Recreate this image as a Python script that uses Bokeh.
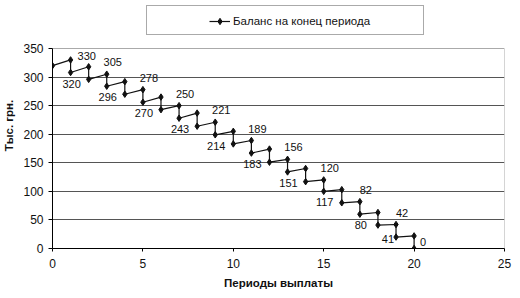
from bokeh.plotting import figure
from bokeh.models import (Range1d, FixedTicker, Legend, LegendItem, LabelSet,
                          ColumnDataSource)
from bokeh.core.properties import value
from bokeh.embed import file_html
from bokeh.resources import INLINE

# ---- data ----
periods = list(range(0, 21))
# balance just before the payment (top of each step), periods 1..20
balance_before = [330, 318, 305, 292, 278, 265, 250, 237, 221, 205,
                  189, 174, 156, 140, 120, 103, 82, 63, 42, 22]
# balance after the payment (bottom of each step), periods 0..20
balance_after = [320, 308, 296, 284, 270, 256, 243, 228, 214, 199, 183,
                 167, 151, 134, 117, 100, 80, 60, 41, 20, 0]

label_periods = [1, 3, 5, 7, 9, 11, 13, 15, 17, 19]
labels_upper = ["330", "305", "278", "250", "221", "189", "156", "120", "82", "42"]
labels_lower = ["320", "296", "270", "243", "214", "183", "151", "117", "80", "41"]
label_last = "0"

x_ticks = [0, 5, 10, 15, 20, 25]
y_ticks = [0, 50, 100, 150, 200, 250, 300, 350]
grid_ticks = [50, 100, 150, 200, 250, 300]

series_name = "Баланс на конец периода"
x_title = "Периоды выплаты"
y_title = "Тыс. грн."

# ---- build the step series ----
xs = [periods[0]]
ys = [balance_after[0]]
for k in periods[1:]:
    xs += [k, k]
    ys += [balance_before[k - 1], balance_after[k]]
src = ColumnDataSource(dict(x=xs, y=ys))

FONT = "Liberation Sans"

# The frame is extended upward so that the legend (drawn inside the frame)
# is not clipped; the visible plot area stays 0..350.
FRAME_TOP = 2      # px
PLOT_TOP = 48      # px where 350 lies
FRAME_BOTTOM = 248 # px
y_max = y_ticks[-1]
y_end = y_max * (FRAME_BOTTOM - FRAME_TOP) / (FRAME_BOTTOM - PLOT_TOP)

p = figure(width=520, height=298, output_backend="svg", toolbar_location=None,
           x_range=Range1d(x_ticks[0], x_ticks[-1]), y_range=Range1d(0, y_end),
           min_border_left=51, min_border_right=16,
           min_border_top=FRAME_TOP, min_border_bottom=298 - FRAME_BOTTOM)
p.background_fill_color = "white"
p.border_fill_color = "white"
p.outline_line_color = None

p.xgrid.grid_line_color = None
p.ygrid.ticker = FixedTicker(ticks=grid_ticks)
p.ygrid.grid_line_color = "#555555"
p.ygrid.grid_line_width = 1

# plot-area border (top and right), light grey
p.segment(x0=[x_ticks[0], x_ticks[-1]], y0=[y_max, y_ticks[0]],
          x1=[x_ticks[-1], x_ticks[-1]], y1=[y_max, y_max],
          line_color="#aaaaaa", line_width=1)

for ax in (p.xaxis[0], p.yaxis[0]):
    ax.axis_line_color = "black"
    ax.major_tick_line_color = "black"
    ax.minor_tick_line_color = None
    ax.major_tick_in = 0
    ax.major_label_text_font = FONT
    ax.major_label_text_font_size = "12px"
    ax.major_label_text_color = "#111111"
    ax.axis_label_text_font = FONT
    ax.axis_label_text_font_size = "11.5px"
    ax.axis_label_text_font_style = "bold"
    ax.axis_label_text_color = "#111111"

p.xaxis.ticker = FixedTicker(ticks=x_ticks)
p.xaxis.major_tick_out = 3
p.xaxis.major_label_standoff = 7
p.xaxis.axis_label = x_title
p.xaxis.axis_label_standoff = 6

p.yaxis.ticker = FixedTicker(ticks=y_ticks)
p.yaxis.bounds = (y_ticks[0], y_max)
p.yaxis.major_tick_out = 4
p.yaxis.major_label_standoff = 5
p.yaxis.axis_label = y_title
p.yaxis.axis_label_standoff = 5

line_r = p.line("x", "y", source=src, line_color="#111111", line_width=1.2)
pts_r = p.scatter("x", "y", source=src, marker="diamond", size=6.5,
                  fill_color="#111111", line_color="#111111")

# ---- data labels ----
def lab_src(xv, yv, tv):
    return ColumnDataSource(dict(x=xv, y=yv, t=tv))

up_y = [balance_before[k - 1] for k in label_periods]
lo_y = [balance_after[k] for k in label_periods]
up1_src = lab_src(label_periods[:1], up_y[:1], labels_upper[:1])
up_src = lab_src(label_periods[1:], up_y[1:], labels_upper[1:])
lo_src = lab_src(label_periods[:-1], lo_y[:-1], labels_lower[:-1])
lo2_src = lab_src(label_periods[-1:], lo_y[-1:], labels_lower[-1:])
end_src = lab_src([periods[-1]], [balance_after[-1]], [label_last])

common = dict(text_font=value(FONT), text_font_size=value("11px"),
              text_color="#111111", text_baseline="middle")
p.add_layout(LabelSet(x="x", y="y", text="t", source=up1_src, x_offset=7,
                      y_offset=4, text_align="left", **common))
p.add_layout(LabelSet(x="x", y="y", text="t", source=up_src, x_offset=6,
                      y_offset=12, text_align="center", **common))
p.add_layout(LabelSet(x="x", y="y", text="t", source=lo_src, x_offset=1,
                      y_offset=-11, text_align="center", **common))
p.add_layout(LabelSet(x="x", y="y", text="t", source=lo2_src, x_offset=-2,
                      y_offset=-2, text_align="right", **common))
p.add_layout(LabelSet(x="x", y="y", text="t", source=end_src, x_offset=6,
                      y_offset=7, text_align="left", **common))

# ---- legend: box + item ----
dummy = p.line(x=[], y=[], line_alpha=0)
box = Legend(items=[LegendItem(label=" ", renderers=[dummy])],
             location=(94, 213), padding=0, margin=0, spacing=0,
             glyph_width=256, glyph_height=28, label_width=20,
             label_height=28, label_standoff=0,
             border_line_color="#555555", border_line_width=1,
             background_fill_color="white", background_fill_alpha=1)
leg = Legend(items=[LegendItem(label=series_name, renderers=[line_r, pts_r])],
             location=(157, 219), padding=0, margin=0, spacing=0,
             glyph_width=21, glyph_height=16, label_height=16,
             label_standoff=3, border_line_alpha=0, background_fill_alpha=0,
             label_text_font=FONT, label_text_font_size="11.5px",
             label_text_color="#111111")
p.add_layout(box, "center")
p.add_layout(leg, "center")

open("out.html", "w").write(file_html(p, INLINE))
